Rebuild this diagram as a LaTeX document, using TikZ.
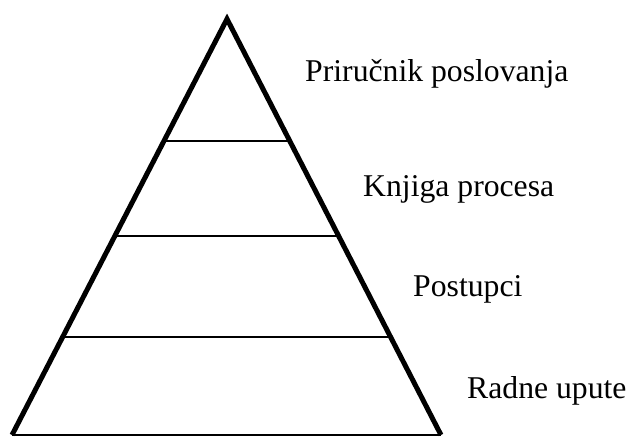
\documentclass[tikz,border=0pt]{standalone}
\usepackage{fontspec}
\setmainfont{Liberation Serif}
\usetikzlibrary{calc}

\tikzset{
  strana/.style={line width=5pt, line join=miter},
  razina/.style={line width=2pt},
  oznaka/.style={anchor=base west, inner sep=0pt, font=\fontsize{31.7}{38}\selectfont}
}

\begin{document}
\begin{tikzpicture}[x=1pt, y=-1pt]
\useasboundingbox (0,0) rectangle (629,438);

% Vrh i osnovica
\coordinate (vrh) at (227,19);
\coordinate (lijevo) at (12,435);
\coordinate (desno) at (441,435);

% Razine
\draw[razina] ($(vrh)!0.293!(lijevo)$) -- ($(vrh)!0.293!(desno)$);
\draw[razina] ($(vrh)!0.521!(lijevo)$) -- ($(vrh)!0.521!(desno)$);
\draw[razina] ($(vrh)!0.764!(lijevo)$) -- ($(vrh)!0.764!(desno)$);

% Osnovica
\draw[razina] (lijevo) -- (desno);

% Strane
\draw[strana] (lijevo) -- (vrh) -- (desno);

% Oznake
\node[oznaka] (prirucnik) at (305,82) {Priručnik poslovanja};
\node[oznaka] (knjiga) at (363,197) {Knjiga procesa};
\node[oznaka] (postupci) at (413,297) {Postupci};
\node[oznaka] (upute) at (467,398) {Radne upute};

\end{tikzpicture}
\end{document}
